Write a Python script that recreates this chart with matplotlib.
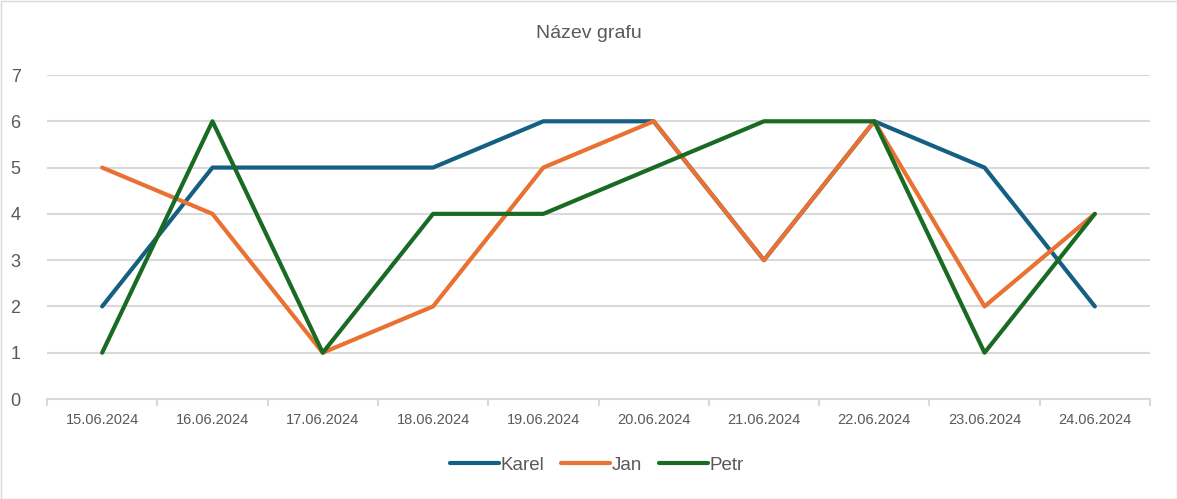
import matplotlib
matplotlib.use("Agg")
import matplotlib.pyplot as plt
from matplotlib.patches import Rectangle
import numpy as np

dates = ["15.06.2024", "16.06.2024", "17.06.2024", "18.06.2024", "19.06.2024",
         "20.06.2024", "21.06.2024", "22.06.2024", "23.06.2024", "24.06.2024"]
karel = [2, 5, 5, 5, 6, 6, 3, 6, 5, 2]
jan = [5, 4, 1, 2, 5, 6, 3, 6, 2, 4]
petr = [1, 6, 1, 4, 4, 5, 6, 6, 1, 4]
yticks = [0, 1, 2, 3, 4, 5, 6, 7]

plt.rcParams['font.family'] = ['Liberation Sans', 'DejaVu Sans']
gray = "#595959"

fig = plt.figure(figsize=(11.77, 4.99), dpi=100)
ax = fig.add_axes([47/1177, 1-399/499, (1150-47)/1177, (399-75)/499])

x = np.arange(len(dates))
ax.plot(x, karel, color="#156082", lw=3, label="Karel", solid_joinstyle="round", solid_capstyle="round")
ax.plot(x, jan, color="#E97132", lw=3, label="Jan", solid_joinstyle="round", solid_capstyle="round")
ax.plot(x, petr, color="#196B24", lw=3, label="Petr", solid_joinstyle="round", solid_capstyle="round")

ax.set_xlim(-0.5, len(dates) - 0.5)
ax.set_ylim(0, 7)
ax.set_yticks(yticks)
ax.set_yticklabels([str(v) for v in yticks], fontsize=13, color=gray)
ax.tick_params(axis='y', length=0, pad=19)
ax.yaxis.grid(True, color="#D9D9D9", lw=1.5)
ax.set_axisbelow(True)

ax.set_xticks(x)
ax.set_xticklabels(dates, fontsize=10.5, color=gray)
ax.set_xticks(np.arange(-0.5, len(dates), 1.0), minor=True)
ax.tick_params(axis='x', which='major', length=0, pad=10)
ax.tick_params(axis='x', which='minor', length=5, color="#D9D9D9", width=1.5)

for s in ["top", "right", "left"]:
    ax.spines[s].set_visible(False)
ax.spines["bottom"].set_color("#D9D9D9")
ax.spines["bottom"].set_linewidth(1.5)

fig.text(0.5, 1-33/499, "Název grafu", ha="center", va="center", fontsize=14, color=gray)

leg = fig.legend(loc="center", bbox_to_anchor=(597/1177, 1-465/499), ncol=3, frameon=False,
                 fontsize=13.5, handlelength=2.6, handletextpad=0.1, columnspacing=0.9)
for t in leg.get_texts():
    t.set_color(gray)

fig.patches.append(Rectangle((0.5/1177, 0.5/499), 1-1/1177, 1-1/499, transform=fig.transFigure,
                             fill=False, edgecolor="#D9D9D9", lw=1))

fig.savefig("out.png", dpi=100)
